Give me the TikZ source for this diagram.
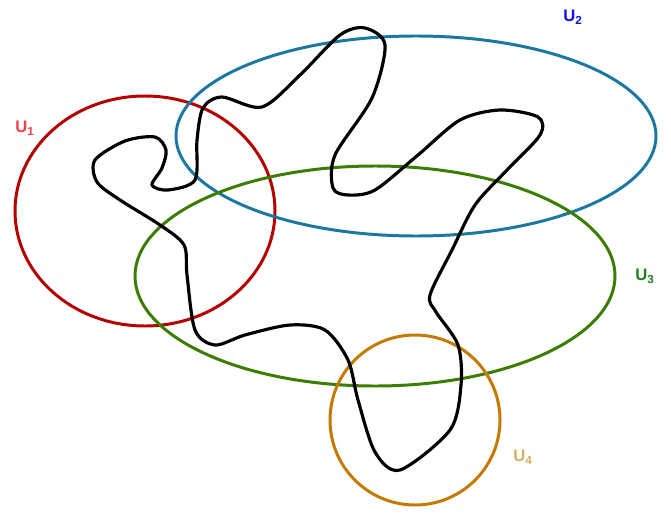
\documentclass[tikz,border=0pt]{standalone}
\usepackage{fontspec}
\setmainfont{Liberation Sans}
\usetikzlibrary{positioning}
\definecolor{setred}{HTML}{B40000}
\definecolor{setblue}{HTML}{1B78A0}
\definecolor{setgreen}{HTML}{3A7D00}
\definecolor{setorange}{HTML}{C47A00}
\definecolor{lblred}{HTML}{FF4040}
\definecolor{lblblue}{HTML}{1010F0}
\definecolor{lblgreen}{HTML}{1E7F1E}
\definecolor{lbltan}{HTML}{D2B261}
\tikzstyle{set} = [line width=1.7pt]
\tikzstyle{path} = [line width=1.8pt, black, line join=round]
\tikzstyle{lbl} = [inner sep=0pt, font=\fontsize{9.5}{11}\selectfont\bfseries]

\begin{document}
\begin{tikzpicture}[%
x=0.02cm, y=-0.02cm,
]
\useasboundingbox (0,0) rectangle (671,513);

% open sets
\draw [set, setred] (145,211) ellipse [x radius=130, y radius=115];
\draw [set, setblue] (416,136) ellipse [x radius=240, y radius=100];
\draw [set, setgreen] (375,276) ellipse [x radius=240, y radius=110];
\draw [set, setorange] (415,420) ellipse [x radius=85, y radius=85];

% the closed curve
\draw [path] plot [smooth cycle, tension=0.5] coordinates {
  (95,160) (125,141) (155,137) (166,150) (162,168) (152,185) (168,190)
  (195,180) (197,140) (203,108) (222,97) (262,107) (300,75) (340,35)
  (365,28) (385,45) (372,98) (335,155) (333,188) (348,195) (375,190)
  (418,155) (460,120) (500,110) (538,117) (540,135) (507,170) (475,205)
  (452,250) (430,295) (436,312) (458,345) (461,385) (450,430) (400,470)
  (375,452) (358,400) (348,360) (325,330) (290,325) (245,335) (215,345)
  (195,330) (187,275) (184,245) (160,225) (120,200) (97,182)};

% labels
\node[lbl, text=lblred] (u1) at (25,128) {U\textsubscript{1}};
\node[lbl, text=lblblue] (u2) at (573,17) {U\textsubscript{2}};
\node[lbl, text=lblgreen] (u3) at (645,276) {U\textsubscript{3}};
\node[lbl, text=lbltan] (u4) at (523,457) {U\textsubscript{4}};

\end{tikzpicture}
\end{document}
